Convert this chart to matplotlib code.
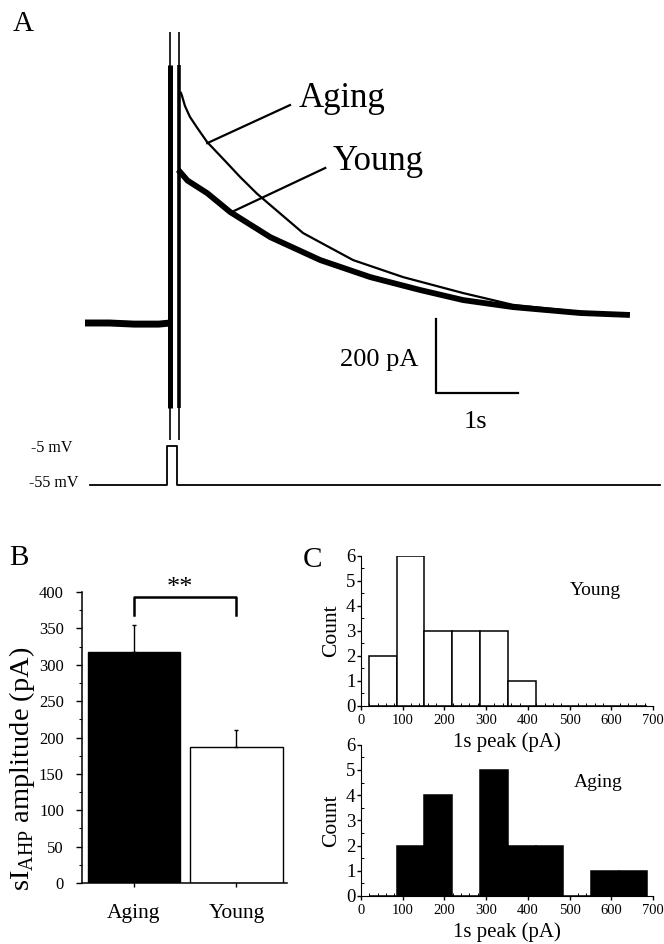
import matplotlib
matplotlib.use('Agg')
import matplotlib.pyplot as plt
from matplotlib.ticker import MultipleLocator
import numpy as np

plt.rcParams['font.family'] = ['Liberation Serif', 'DejaVu Serif']
plt.rcParams['mathtext.fontset'] = 'custom'
plt.rcParams['mathtext.rm'] = 'Liberation Serif'

W, H = 664, 944

# ---------------- Panel A data (time in s, current in pA) ----------------
base_t = [0.0, 0.30, 0.60, 0.90, 1.04]
base_I = [0, 0, -3, -3, 0]
aging_t = [1.17, 1.18, 1.22, 1.28, 1.37, 1.49, 1.70, 1.89, 2.10, 2.29, 2.66, 3.27, 3.88, 4.61, 5.22, 6.04, 6.61]
aging_I = [622, 616, 586, 557, 527, 489, 440, 395, 349, 313, 243, 170, 124, 81, 49, 30, 22]
young_t = [1.16, 1.25, 1.49, 1.77, 2.26, 2.87, 3.48, 4.09, 4.61, 5.22, 6.04, 6.61]
young_I = [408, 385, 351, 300, 232, 170, 124, 89, 62, 43, 27, 22]
spike_t = [1.04, 1.15]
spike_top = 786
spike_thick_top = 697
spike_thick_bottom = -230
spike_bottom = -316
cmd_t = [0.06, 1.00, 1.00, 1.12, 1.12, 7.01]
cmd_V = [-55, -55, -5, -5, -55, -55]
scale_I = 200
scale_t = 1.0

# ---------------- Panel B data ----------------
groups = ['Aging', 'Young']
amp_mean = [317, 187]
amp_sem = [38, 23]

# ---------------- Panel C data ----------------
bin_edges = [19, 86, 152, 219, 286, 352, 419, 485, 552, 618, 685]
young_counts = [2, 6, 3, 3, 3, 1, 0, 0, 0, 0]
aging_counts = [0, 2, 4, 0, 5, 2, 2, 0, 1, 1]

fig = plt.figure(figsize=(W / 100, H / 100), dpi=100)
fig.patch.set_facecolor('white')


def px_axes(x0, y0, x1, y1):
    ax = fig.add_axes([x0 / W, 1 - y1 / H, (x1 - x0) / W, (y1 - y0) / H])
    ax.patch.set_visible(False)
    return ax


# pixel calibration of panel A
T0_PX, PX_PER_S = 85, 82.0
I0_PX, PX_PER_PA = 323, 74 / 200.0

axA = px_axes(0, 20, 664, 445)
axA.set_xlim((0 - T0_PX) / PX_PER_S, (664 - T0_PX) / PX_PER_S)
axA.set_ylim((I0_PX - 445) / PX_PER_PA, (I0_PX - 20) / PX_PER_PA)
axA.axis('off')

# transients
axA.vlines(spike_t, spike_bottom, spike_top, color='black', lw=1.2)
axA.vlines(spike_t[0], spike_thick_bottom, spike_thick_top, color='black', lw=3.6)
axA.vlines(spike_t[1], spike_thick_bottom, spike_thick_top, color='black', lw=2.6)
axA.plot(base_t, base_I, color='black', lw=5.0, solid_capstyle='butt')
axA.plot(young_t, young_I, color='black', lw=4.2, solid_joinstyle='round')
axA.plot(aging_t, aging_I, color='black', lw=1.6)

# labels with leader lines
axA.plot([1.49, 2.50], [486, 589], color='black', lw=1.6)
axA.plot([1.79, 2.93], [300, 419], color='black', lw=1.6)
axA.text(2.60, 606, 'Aging', fontsize=25, ha='left', va='center')
axA.text(3.02, 437, 'Young', fontsize=25, ha='left', va='center')

# scale bar
sb_t, sb_I = 4.28, -189
axA.plot([sb_t, sb_t, sb_t + scale_t], [sb_I + scale_I, sb_I, sb_I], color='black', lw=1.6)
axA.text(4.06, -100, '200 pA', fontsize=19, ha='right', va='center')
axA.text(sb_t + scale_t / 2 - 0.02, -268, '1s', fontsize=19, ha='center', va='center')

# voltage command (-5 mV at y=446 px, -55 mV at y=485 px)
axV = px_axes(0, 437, 664, 495)
axV.set_xlim(axA.get_xlim())
axV.set_ylim(-67.8, 6.5)
axV.axis('off')
axV.plot(cmd_t, cmd_V, color='black', lw=1.3)
axV.text(-0.16, -7, '-5 mV', fontsize=11.5, ha='right', va='center')
axV.text(-0.085, -52, '-55 mV', fontsize=11.5, ha='right', va='center')

fig.text(23 / W, 1 - 24 / H, 'A', fontsize=21, ha='center', va='center')

# ---------------- Panel B ----------------
axB = px_axes(82, 592, 287, 883)
x = np.arange(len(groups))
axB.bar(x, amp_mean, width=0.9, color=['black', 'white'], edgecolor='black', lw=1.0)
axB.errorbar(x, amp_mean, yerr=[[0, 0], amp_sem], fmt='none', ecolor='black',
             elinewidth=1.0, capsize=1.5, capthick=1.0)
axB.set_xlim(-0.507, 1.493)
axB.set_ylim(0, 400)
axB.spines['top'].set_visible(False)
axB.spines['right'].set_visible(False)
axB.spines['left'].set_linewidth(1.1)
axB.spines['bottom'].set_linewidth(1.1)
axB.yaxis.set_major_locator(MultipleLocator(50))
axB.yaxis.set_minor_locator(MultipleLocator(25))
axB.tick_params(axis='y', which='major', labelsize=12, length=4, width=1, pad=9)
axB.tick_params(axis='y', which='minor', length=2, width=0.8)
axB.set_xticks(x)
axB.set_xticklabels(groups)
axB.tick_params(axis='x', labelsize=15.5, length=3, width=1, pad=12)
axB.set_ylabel(r'sI$_{\mathregular{AHP}}$ amplitude (pA)', fontsize=20.5, va='center')
axB.yaxis.set_label_coords(-0.293, 0.392)
axB.plot([0, 0, 1, 1], [368, 393, 393, 368], color='black', lw=1.8, clip_on=False)
axB.text(0.45, 405, '**', fontsize=19, ha='center', va='center')
fig.text(19 / W, 1 - 558 / H, 'B', fontsize=21, ha='center', va='center')

# ---------------- Panel C ----------------
widths = np.diff(bin_edges)


def hist_axes(ax, counts, color, label, label_xy):
    ax.bar(bin_edges[:-1], counts, width=widths, align='edge', color=color,
           edgecolor='black', lw=1.1)
    ax.set_xlim(0, 700)
    ax.set_ylim(0, 6)
    ax.spines['top'].set_visible(False)
    ax.spines['right'].set_visible(False)
    ax.xaxis.set_major_locator(MultipleLocator(100))
    ax.xaxis.set_minor_locator(MultipleLocator(20))
    ax.yaxis.set_major_locator(MultipleLocator(1))
    ax.yaxis.set_minor_locator(MultipleLocator(0.5))
    ax.tick_params(axis='x', which='major', labelsize=10.5, length=3, width=1, pad=3)
    ax.tick_params(axis='x', which='minor', length=2, width=0.7, direction='in')
    ax.tick_params(axis='y', which='major', labelsize=13.5, length=3, width=1, pad=1)
    ax.tick_params(axis='y', which='minor', length=2, width=0.7, direction='in')
    ax.set_xlabel('1s peak (pA)', fontsize=15, va='center')
    ax.xaxis.set_label_coords(0.5, -0.24)
    ax.set_ylabel('Count', fontsize=15.5, va='center')
    ax.yaxis.set_label_coords(-0.099, 0.5)
    ax.text(label_xy[0], label_xy[1], label, fontsize=14, ha='center', va='center')


axCY = px_axes(361, 555.6, 653, 706)
hist_axes(axCY, young_counts, 'white', 'Young', (561, 4.6))
axCA = px_axes(361, 744.8, 653, 896)
hist_axes(axCA, aging_counts, 'black', 'Aging', (568, 4.5))
fig.text(312 / W, 1 - 560 / H, 'C', fontsize=21, ha='center', va='center')

fig.savefig('out.png', dpi=100, facecolor='white')
